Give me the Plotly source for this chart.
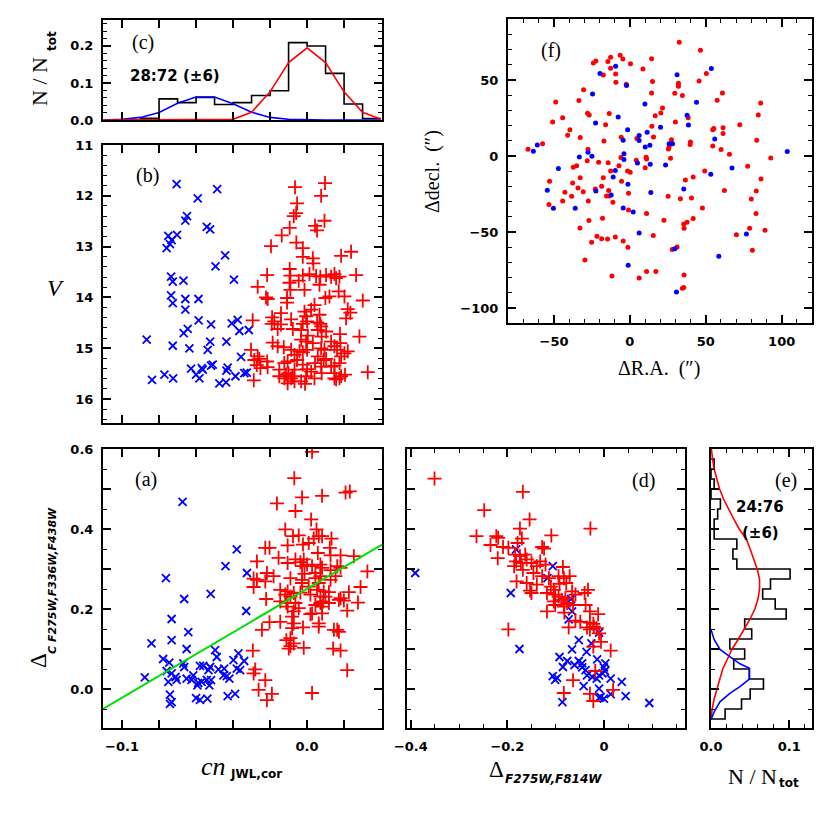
import plotly.graph_objects as go

# ================= DATA =================
# ---- panel (b): V vs cn_JWL,cor ----
b_blue_cn = [-0.0705, -0.0591, -0.0486, -0.0649, -0.0658, -0.0542, -0.0524, -0.0750, -0.0703, -0.0732,
             -0.0741, -0.0759, -0.0443, -0.0495, -0.0735, -0.0726, -0.0668, -0.0395, -0.0735, -0.0726,
             -0.0658, -0.0587, -0.0658, -0.0586, -0.0519, -0.0407, -0.0375, -0.0366, -0.0315, -0.0645,
             -0.0667, -0.0867, -0.0726, -0.0636, -0.0524, -0.0537, -0.0436, -0.0357, -0.0627, -0.0569,
             -0.0519, -0.0510, -0.0429, -0.0436, -0.0771, -0.0724, -0.0838, -0.0600, -0.0582, -0.0564,
             -0.0474, -0.0438, -0.0387, -0.0339, -0.0326]
b_blue_V = [11.77, 12.05, 11.87, 12.40, 12.49, 12.61, 12.66, 12.79, 12.77, 12.87,
            12.95, 13.03, 13.17, 13.39, 13.59, 13.69, 13.67, 13.65, 13.96, 14.11,
            14.03, 14.03, 14.24, 14.45, 14.53, 14.51, 14.44, 14.66, 14.64, 14.62,
            14.70, 14.83, 14.95, 15.00, 14.87, 15.03, 14.87, 15.17, 15.40, 15.39,
            15.34, 15.32, 15.38, 15.44, 15.52, 15.59, 15.62, 15.52, 15.59, 15.42,
            15.69, 15.67, 15.55, 15.49, 15.48]
b_red_cn = [0.0097, 0.0076, -0.0065, -0.0054, -0.0059, -0.0072, 0.0094, 0.0043, 0.0054, -0.0094,
            -0.0137, -0.0058, -0.0195, -0.0023, -0.0023, 0.0031, 0.0034, 0.0238, 0.0184, 0.0265,
            -0.0216, -0.0267, -0.0094, -0.0090, -0.0023, 0.0013, 0.0049, 0.0072, 0.0103, 0.0148,
            0.0157, 0.0130, 0.0175, -0.0045, -0.0095, 0.0067, -0.0090, -0.0014, 0.0171, -0.0222,
            -0.0213, 0.0099, 0.0121, 0.0202, 0.0301, -0.0108, -0.0108, -0.0141, -0.0014, 0.0022,
            0.0040, 0.0067, -0.0005, -0.0023, 0.0220, 0.0234, 0.0211, -0.0189, -0.0177, -0.0191,
            -0.0141, -0.0159, -0.0086, -0.0077, -0.0032, 0.0000, 0.0054, 0.0072, 0.0076, 0.0058,
            0.0103, 0.0178, -0.0294, 0.0004, -0.0032, -0.0005, 0.0031, 0.0079, 0.0130, 0.0148,
            0.0180, 0.0283, -0.0186, -0.0159, -0.0126, -0.0086, -0.0041, -0.0068, -0.0023, 0.0000,
            0.0076, 0.0094, 0.0058, 0.0103, 0.0162, 0.0184, 0.0220, 0.0202, 0.0175, 0.0148,
            -0.0303, -0.0267, -0.0258, -0.0285, -0.0272, -0.0252, -0.0216, -0.0213, -0.0150, -0.0123,
            -0.0105, -0.0054, -0.0068, -0.0114, -0.0101, -0.0077, -0.0068, -0.0023, 0.0000, -0.0005,
            0.0022, 0.0043, 0.0076, 0.0079, 0.0090, 0.0130, 0.0148, 0.0184, 0.0205, 0.0328,
            -0.0105, -0.0032, -0.0011, 0.0040, 0.0148, 0.0157, -0.0288, -0.0150, -0.0123, -0.0086,
            0.0175]
b_red_V = [11.75, 12.00, 11.83, 12.15, 12.34, 12.40, 12.49, 12.59, 12.68, 12.63,
           12.78, 12.92, 12.99, 13.03, 13.20, 13.23, 13.33, 13.10, 13.18, 13.56,
           13.56, 13.79, 13.44, 13.57, 13.57, 13.54, 13.58, 13.59, 13.56, 13.54,
           13.62, 13.59, 13.59, 13.67, 13.71, 13.75, 13.85, 13.85, 13.88, 14.00,
           14.03, 14.01, 13.98, 13.98, 14.06, 14.01, 14.10, 14.31, 14.28, 14.24,
           14.15, 14.34, 14.37, 14.52, 14.23, 14.30, 14.41, 14.39, 14.47, 14.52,
           14.53, 14.62, 14.43, 14.62, 14.64, 14.47, 14.49, 14.52, 14.57, 14.64,
           14.67, 14.72, 14.45, 14.75, 14.83, 14.87, 14.90, 14.77, 14.87, 14.96,
           14.90, 14.77, 14.89, 14.96, 14.98, 15.03, 15.06, 15.13, 15.08, 15.03,
           15.00, 15.03, 15.16, 15.21, 15.03, 15.16, 15.06, 15.10, 15.29, 15.34,
           15.03, 15.16, 15.21, 15.23, 15.33, 15.39, 15.26, 15.37, 15.42, 15.29,
           15.26, 15.23, 15.42, 15.52, 15.49, 15.55, 15.65, 15.32, 15.41, 15.55,
           15.46, 15.29, 15.36, 15.49, 15.23, 15.36, 15.49, 15.55, 15.52, 15.47,
           15.69, 15.65, 15.70, 15.59, 15.59, 15.61, 15.63, 15.55, 15.59, 15.59,
           15.59]

# ---- panel (a): Delta_C vs cn ----
a_blue_cn = [-0.0673, -0.0380, -0.0441, -0.0763, -0.0325, -0.0521, -0.0664, -0.0329, -0.0732, -0.0642,
             -0.0841, -0.0732, -0.0651, -0.0497, -0.0488, -0.0778, -0.0745, -0.0669, -0.0664, -0.0579,
             -0.0561, -0.0524, -0.0533, -0.0479, -0.0448, -0.0371, -0.0398, -0.0340, -0.0380, -0.0362,
             -0.0877, -0.0759, -0.0732, -0.0750, -0.0711, -0.0705, -0.0651, -0.0624, -0.0615, -0.0588,
             -0.0593, -0.0570, -0.0542, -0.0528, -0.0519, -0.0452, -0.0434, -0.0420, -0.0741, -0.0732,
             -0.0741, -0.0600, -0.0579, -0.0539, -0.0429, -0.0389]
a_blue_dc = [0.468, 0.349, 0.307, 0.277, 0.290, 0.238, 0.225, 0.195, 0.175, 0.142,
             0.114, 0.122, 0.100, 0.097, 0.080, 0.075, 0.066, 0.064, 0.055, 0.058,
             0.058, 0.055, 0.047, 0.049, 0.051, 0.089, 0.072, 0.070, 0.051, 0.047,
             0.029, 0.045, 0.039, 0.018, 0.030, 0.023, 0.026, 0.023, 0.034, 0.015,
             0.009, 0.018, 0.023, 0.009, 0.022, 0.034, 0.032, 0.026, -0.014, -0.033,
             -0.037, -0.023, -0.027, -0.024, -0.018, -0.012]
a_red_cn = [0.0027, -0.0069, -0.0163, -0.0027, -0.0063, 0.0081, 0.0208, 0.0231, 0.0022, -0.0118,
            0.0051, 0.0063, 0.0081, 0.0036, -0.0076, -0.0045, 0.0132, -0.0105, -0.0022, 0.0009,
            -0.0226, -0.0203, 0.0123, 0.0058, 0.0127, 0.0181, 0.0253, -0.0154, -0.0105, -0.0063,
            -0.0018, -0.0036, -0.0271, -0.0027, 0.0000, 0.0027, 0.0072, 0.0081, 0.0163, 0.0181,
            0.0127, 0.0326, -0.0217, 0.0045, -0.0014, -0.0289, -0.0271, -0.0226, -0.0181, -0.0090,
            -0.0027, 0.0045, 0.0072, 0.0127, 0.0154, -0.0027, 0.0009, 0.0063, -0.0289, 0.0289,
            -0.0145, -0.0105, -0.0072, -0.0036, 0.0054, 0.0090, 0.0118, 0.0226, -0.0118, -0.0090,
            0.0018, 0.0072, 0.0099, -0.0221, 0.0181, -0.0145, -0.0112, -0.0063, 0.0072, 0.0087,
            0.0118, 0.0172, 0.0199, 0.0275, -0.0105, -0.0045, 0.0045, 0.0081, -0.0072, 0.0027,
            0.0081, 0.0217, 0.0018, -0.0081, -0.0203, -0.0145, -0.0072, 0.0063, -0.0244, -0.0081,
            -0.0022, 0.0063, 0.0145, 0.0163, 0.0172, -0.0090, -0.0112, -0.0072, -0.0090, -0.0099,
            -0.0018, 0.0141, 0.0181, -0.0293, -0.0280, -0.0289, 0.0217, -0.0226, -0.0262, -0.0190,
            -0.0217, 0.0027]
a_red_dc = [0.593, 0.527, 0.464, 0.479, 0.445, 0.483, 0.491, 0.494, 0.424, 0.399,
            0.399, 0.382, 0.382, 0.376, 0.382, 0.384, 0.376, 0.359, 0.361, 0.365,
            0.353, 0.353, 0.353, 0.340, 0.334, 0.334, 0.332, 0.328, 0.315, 0.324,
            0.324, 0.317, 0.319, 0.307, 0.311, 0.307, 0.311, 0.303, 0.307, 0.303,
            0.297, 0.294, 0.290, 0.290, 0.288, 0.276, 0.273, 0.269, 0.282, 0.277,
            0.273, 0.277, 0.282, 0.273, 0.282, 0.265, 0.256, 0.265, 0.255, 0.255,
            0.248, 0.244, 0.240, 0.241, 0.248, 0.244, 0.242, 0.242, 0.236, 0.231,
            0.236, 0.231, 0.231, 0.225, 0.227, 0.219, 0.215, 0.215, 0.215, 0.219,
            0.215, 0.223, 0.221, 0.216, 0.206, 0.202, 0.210, 0.206, 0.194, 0.189,
            0.189, 0.196, 0.187, 0.181, 0.167, 0.168, 0.164, 0.164, 0.148, 0.152,
            0.154, 0.156, 0.148, 0.148, 0.143, 0.127, 0.122, 0.114, 0.107, 0.101,
            0.103, 0.101, 0.096, 0.096, 0.049, 0.039, 0.047, 0.022, -0.002, -0.012,
            -0.028, -0.010]
fit_cn = [-0.1103, 0.0405]
fit_dc = [-0.050, 0.361]

# ---- panel (c): histogram of cn ----
c_bin_edges = [-0.11, -0.10, -0.09, -0.08, -0.07, -0.06, -0.05, -0.04, -0.03, -0.02, -0.01, 0.00, 0.01, 0.02, 0.03, 0.04]
c_frac = [0.0, 0.0, 0.0045, 0.057, 0.047, 0.061, 0.042, 0.047, 0.066, 0.079, 0.209, 0.200, 0.126, 0.043, 0.004]
c_curve_cn = [-0.11, -0.10, -0.09, -0.08, -0.07, -0.06, -0.05, -0.04, -0.03, -0.02, -0.01, 0.00, 0.01, 0.02, 0.03, 0.04]
c_blue_frac = [0.0, 0.002, 0.007, 0.020, 0.045, 0.062, 0.062, 0.044, 0.021, 0.007, 0.002, 0.0, 0.0, 0.0, 0.0, 0.0]
c_red_frac = [0.0, 0.0, 0.0, 0.0, 0.0, 0.0, 0.0, 0.002, 0.021, 0.076, 0.155, 0.195, 0.155, 0.076, 0.021, 0.002]

# ---- panel (d): Delta_C vs Delta_F275W,F814W ----
d_blue_x = [-0.391, -0.182, -0.106, -0.117, -0.193, -0.068, -0.066, -0.073, -0.010, -0.052,
            -0.026, -0.175, -0.066, -0.036, -0.092, -0.076, -0.052, -0.045, -0.014, 0.003,
            -0.085, -0.061, -0.045, -0.038, 0.000, 0.002, -0.035, -0.024, -0.010, -0.003,
            -0.106, -0.101, -0.097, -0.015, 0.014, 0.037, -0.042, -0.010, -0.007, 0.000,
            0.014, 0.045, -0.086, 0.094, -0.010]
d_blue_y = [0.290, 0.349, 0.307, 0.277, 0.240, 0.225, 0.194, 0.174, 0.141, 0.122,
            0.114, 0.100, 0.099, 0.093, 0.080, 0.070, 0.070, 0.064, 0.074, 0.064,
            0.055, 0.060, 0.054, 0.047, 0.054, 0.045, 0.034, 0.030, 0.034, 0.039,
            0.032, 0.023, 0.028, 0.026, 0.026, 0.018, 0.007, 0.001, -0.020, -0.024,
            -0.013, -0.018, -0.033, -0.035, -0.022]
d_red_x = [-0.351, -0.168, -0.248, -0.154, -0.028, -0.174, -0.264, -0.223, -0.170, -0.109,
           -0.235, -0.219, -0.209, -0.198, -0.179, -0.128, -0.124, -0.220, -0.184, -0.174,
           -0.163, -0.182, -0.172, -0.160, -0.150, -0.139, -0.132, -0.121, -0.186, -0.168,
           -0.146, -0.128, -0.114, -0.085, -0.094, -0.083, -0.071, -0.181, -0.160, -0.139,
           -0.110, -0.092, -0.078, -0.153, -0.150, -0.118, -0.104, -0.101, -0.094, -0.087,
           -0.080, -0.076, -0.066, -0.040, -0.033, -0.059, -0.104, -0.101, -0.083, -0.064,
           -0.038, -0.118, -0.082, -0.029, -0.012, -0.059, -0.049, -0.029, -0.022, -0.073,
           -0.035, -0.029, -0.021, -0.015, -0.198, -0.010, -0.006, -0.022, 0.014, -0.018,
           -0.064, 0.019, -0.083, -0.029, -0.022]
d_red_y = [0.526, 0.493, 0.447, 0.424, 0.401, 0.401, 0.382, 0.382, 0.376, 0.384,
           0.360, 0.378, 0.355, 0.353, 0.365, 0.355, 0.351, 0.327, 0.336, 0.332,
           0.336, 0.319, 0.315, 0.324, 0.315, 0.307, 0.319, 0.311, 0.307, 0.298,
           0.290, 0.282, 0.277, 0.305, 0.282, 0.277, 0.282, 0.269, 0.265, 0.261,
           0.256, 0.263, 0.265, 0.246, 0.240, 0.240, 0.248, 0.236, 0.231, 0.223,
           0.227, 0.215, 0.244, 0.240, 0.248, 0.236, 0.219, 0.210, 0.206, 0.210,
           0.210, 0.194, 0.191, 0.194, 0.187, 0.171, 0.168, 0.166, 0.163, 0.154,
           0.154, 0.149, 0.156, 0.152, 0.149, 0.139, 0.118, 0.106, 0.096, 0.045,
           0.022, -0.002, -0.010, -0.012, -0.030]

# ---- panel (e): histogram of Delta_C ----
e_bin_edges = [-0.075, -0.05, -0.025, 0.0, 0.025, 0.05, 0.075, 0.1, 0.125, 0.15, 0.175, 0.2, 0.225,
               0.25, 0.275, 0.3, 0.325, 0.35, 0.375, 0.4, 0.425, 0.45, 0.475, 0.5, 0.525, 0.55, 0.575]
e_frac = [0.018, 0.039, 0.050, 0.067, 0.049, 0.029, 0.043, 0.024, 0.052, 0.043, 0.096, 0.082, 0.066,
          0.076, 0.101, 0.033, 0.028, 0.033, 0.004, 0.004, 0.0085, 0.012, 0.0, 0.004, 0.0, 0.004]
e_red_dc = [-0.075, -0.05, -0.025, 0.0, 0.025, 0.05, 0.075, 0.1, 0.125, 0.15, 0.175, 0.2, 0.225, 0.25,
            0.275, 0.3, 0.325, 0.35, 0.375, 0.4, 0.425, 0.45, 0.475, 0.5, 0.525, 0.55, 0.575, 0.6]
e_red_frac = [0.0, 0.0015, 0.004, 0.0075, 0.011, 0.015, 0.021, 0.027, 0.035, 0.043, 0.050, 0.056, 0.060, 0.062,
              0.062, 0.059, 0.055, 0.050, 0.045, 0.036, 0.029, 0.022, 0.016, 0.011, 0.007, 0.004, 0.002, 0.0005]
e_blue_dc = [-0.077, -0.057, -0.032, -0.011, 0.006, 0.025, 0.052, 0.063, 0.081, 0.099, 0.124, 0.149]
e_blue_frac = [0.0, 0.004, 0.0115, 0.024, 0.037, 0.049, 0.049, 0.037, 0.024, 0.0115, 0.004, 0.0]

# ---- panel (f): spatial distribution ----
f_blue_ra = [-9.4, -19.7, -24.6, -2.2, 9.9, 31.1, 53.7, 43.9, 37.7, 38.6,
             -7.7, -22.6, -1.5, 20.2, 11.4, 6.1, 6.1, -4.4, 13.2, 10.1,
             25.9, 28.1, 55.9, -61.0, -63.6, -27.6, -25.0, -33.3, -3.9, -3.9,
             5.0, 13.4, 23.5, -47.1, -9.6, -11.0, -1.3, 67.3, 53.3, 103.7,
             -54.4, -22.4, -12.3, 13.8, 35.5, -50.4, -36.0, -4.4, 2.2, 6.1,
             29.6, 76.8, 58.6, -1.1, 30.7]
f_blue_dec = [59.0, 54.2, 40.8, 46.3, 34.2, 53.5, 57.5, 35.3, 26.8, 20.4,
              25.7, 21.7, 17.3, 18.9, 15.6, 13.4, 10.1, 10.3, 7.0, 5.9,
              8.1, 8.1, 11.2, 7.2, 3.1, 2.4, -0.2, -0.7, 1.5, -2.4,
              -4.6, -5.5, -5.9, -8.3, -9.6, -13.8, -18.6, -7.9, -12.1, 2.9,
              -22.6, -23.0, -25.7, -24.1, -21.7, -34.4, -34.4, -34.2, -36.8, -50.7,
              -61.0, -51.3, -66.0, -71.9, -89.5]
f_red_ra = [32.5, 46.5, -6.4, -12.7, -4.6, -22.4, -24.1, -14.5, 0.4, 14.3,
            -12.7, 8.6, -9.4, -17.5, 50.4, 14.9, -9.2, -2.4, 45.6, 32.0,
            32.0, -30.5, 34.6, 29.6, 14.3, 61.0, 57.5, -33.6, -48.9, 21.5,
            -27.9, -26.8, -13.6, 20.4, 16.7, -44.3, 38.4, 84.6, 86.2, -50.9,
            -16.0, 14.5, 30.0, 72.4, 54.6, 55.3, 61.4, 61.4, -39.5, -41.0,
            -32.7, -5.7, 15.6, 27.4, 4.6, -17.1, 83.6, -57.5, 39.9, 39.7,
            54.6, 60.1, 65.6, 25.4, 25.9, -27.6, 10.7, 11.0, 4.2, -5.9,
            26.8, 92.8, -28.1, -20.6, -14.3, -7.2, -35.1, -37.3, 10.1, 0.2,
            -1.5, -12.7, 49.3, 77.6, -32.7, -17.5, -52.9, -37.7, -5.5, 36.6,
            41.7, 86.4, -18.6, -34.2, -42.8, -22.8, -14.0, -15.4, -13.6, -0.9,
            62.3, 83.3, 80.0, -38.4, -30.7, -44.3, -27.4, -53.3, -11.2, 33.3,
            40.6, 25.2, 47.8, -0.9, 11.0, -18.0, -27.0, 22.4, 41.7, 37.7,
            35.5, 35.7, -32.9, 83.1, 78.9, 89.0, 70.2, -21.7, -18.6, -14.7,
            -9.6, -4.4, 15.4, -25.2, -1.3, 27.9, 31.1, -29.6, -11.8, 6.1,
            11.0, 17.1, 35.7, 34.6, 35.5, 80.7, -67.1]
f_red_dec = [74.8, 69.5, 66.2, 64.9, 63.8, 62.5, 61.2, 62.1, 60.7, 64.0,
             57.7, 57.2, 53.9, 53.3, 54.2, 48.9, 48.5, 47.1, 49.3, 47.8,
             45.8, 43.6, 39.7, 41.2, 41.4, 41.4, 36.6, 36.4, 35.5, 31.6,
             28.1, 27.0, 27.9, 28.3, 26.5, 25.2, 25.2, 27.0, 34.9, 22.4,
             20.6, 19.5, 22.4, 20.6, 17.3, 18.0, 18.6, 14.7, 17.3, 13.6,
             12.1, 12.3, 12.5, 10.7, 11.4, 9.9, 10.3, 8.1, 9.2, 7.5,
             6.6, 4.2, 1.1, 4.6, 6.1, 4.4, -0.9, -2.0, -2.9, -1.1,
             -1.5, -1.3, -3.1, -4.2, -4.4, -6.4, -6.4, -7.5, -7.7, -10.7,
             -9.9, -9.9, -9.9, -6.8, -14.3, -14.3, -16.7, -17.8, -16.7, -15.8,
             -13.8, -15.1, -20.0, -21.1, -23.9, -21.7, -22.8, -26.3, -26.3, -24.6,
             -22.8, -23.0, -28.3, -26.5, -23.5, -29.6, -29.6, -32.0, -30.5, -28.1,
             -27.6, -26.5, -34.2, -35.5, -37.9, -41.0, -42.5, -42.3, -41.2, -43.6,
             -44.7, -47.6, -47.4, -37.9, -47.6, -48.9, -51.8, -52.9, -54.4, -54.6,
             -53.3, -55.9, -52.4, -56.8, -60.1, -61.6, -59.9, -68.4, -78.9, -80.3,
             -76.1, -76.1, -78.3, -87.1, -86.6, -62.1, 4.4]

# ---- tick labels ----
cn_tickvals = [-0.10, -0.08, -0.06, -0.04, -0.02, 0.00, 0.02, 0.04]
cn_ticktext = ["\u22120.1", "", "", "", "", "0.0", "", ""]
dc_tickvals = [0.0, 0.1, 0.2, 0.3, 0.4, 0.5, 0.6]
dc_ticktext = ["0.0", "", "0.2", "", "0.4", "", "0.6"]

# ================= FIGURE =================
W = H = 830
OX = OY = 8   # page offset of the plot div (browser body margin)
BLUE = "#0000ff"
RED = "#ff0000"
TICKFONT = dict(family="DejaVu Sans", size=13, color="black", weight="bold")


def fx(a, b):
    return [(a - OX) / W, (b - OX) / W]


def fy(top, bot):
    return [1 - (bot - OY) / H, 1 - (top - OY) / H]


fig = go.Figure()

XMARK = dict(symbol="x-thin", size=8, color=BLUE, line=dict(width=1.8, color=BLUE))
PMARK = dict(symbol="cross-thin", size=10, color=RED, line=dict(width=1.8, color=RED))

# (a)
fig.add_trace(go.Scatter(x=a_blue_cn, y=a_blue_dc, mode="markers", xaxis="x", yaxis="y", marker=XMARK))
fig.add_trace(go.Scatter(x=a_red_cn, y=a_red_dc, mode="markers", xaxis="x", yaxis="y", marker=PMARK))
fig.add_trace(go.Scatter(x=fit_cn, y=fit_dc, mode="lines", xaxis="x", yaxis="y",
                         line=dict(color="#00e000", width=2)))
# (b)
fig.add_trace(go.Scatter(x=b_blue_cn, y=b_blue_V, mode="markers", xaxis="x2", yaxis="y2", marker=XMARK))
fig.add_trace(go.Scatter(x=b_red_cn, y=b_red_V, mode="markers", xaxis="x2", yaxis="y2", marker=PMARK))
# (c)
c_step_x = c_bin_edges[:-1] + [c_bin_edges[-1]]
c_step_y = c_frac + [c_frac[-1]]
fig.add_trace(go.Scatter(x=c_step_x, y=c_step_y, mode="lines", line_shape="hv", xaxis="x3", yaxis="y3",
                         line=dict(color="black", width=1.6)))
fig.add_trace(go.Scatter(x=c_curve_cn, y=c_blue_frac, mode="lines", xaxis="x3", yaxis="y3",
                         line=dict(color=BLUE, width=1.6)))
fig.add_trace(go.Scatter(x=c_curve_cn, y=c_red_frac, mode="lines", xaxis="x3", yaxis="y3",
                         line=dict(color=RED, width=1.6)))
# (d)
fig.add_trace(go.Scatter(x=d_blue_x, y=d_blue_y, mode="markers", xaxis="x4", yaxis="y4", marker=XMARK))
fig.add_trace(go.Scatter(x=d_red_x, y=d_red_y, mode="markers", xaxis="x4", yaxis="y4", marker=PMARK))
# (e)
e_step_x = [0.0] + e_frac + [e_frac[-1], 0.0]
e_step_y = [e_bin_edges[0]] + e_bin_edges[:-1] + [e_bin_edges[-1], e_bin_edges[-1]]
fig.add_trace(go.Scatter(x=e_step_x, y=e_step_y, mode="lines", line_shape="vh", xaxis="x5", yaxis="y5",
                         line=dict(color="black", width=1.6)))
fig.add_trace(go.Scatter(x=e_red_frac, y=e_red_dc, mode="lines", xaxis="x5", yaxis="y5",
                         line=dict(color=RED, width=1.6)))
fig.add_trace(go.Scatter(x=e_blue_frac, y=e_blue_dc, mode="lines", xaxis="x5", yaxis="y5",
                         line=dict(color=BLUE, width=1.6)))
# (f)
fig.add_trace(go.Scatter(x=f_red_ra, y=f_red_dec, mode="markers", xaxis="x6", yaxis="y6",
                         marker=dict(symbol="circle", size=5, color=RED, line=dict(width=0))))
fig.add_trace(go.Scatter(x=f_blue_ra, y=f_blue_dec, mode="markers", xaxis="x6", yaxis="y6",
                         marker=dict(symbol="circle", size=5, color=BLUE, line=dict(width=0))))


def ax(**kw):
    base = dict(showline=True, linecolor="black", linewidth=2, mirror="allticks",
                ticks="inside", ticklen=8, tickwidth=1.5, tickcolor="black",
                showgrid=False, zeroline=False, tickfont=TICKFONT, ticklabelstandoff=5,
                automargin=False)
    base.update(kw)
    return base


def minor_kw(d):
    return dict(ticks="inside", ticklen=4, tickwidth=1.2, tickcolor="black", dtick=d, showgrid=False)


fig.update_layout(
    template="none",
    width=W, height=H, margin=dict(l=0, r=0, t=0, b=0, pad=0, autoexpand=False),
    paper_bgcolor="white", plot_bgcolor="white", showlegend=False,
    # (a)
    xaxis=ax(domain=fx(103, 382), range=[-0.1103, 0.0405], anchor="y",
             tickmode="array", tickvals=cn_tickvals, ticktext=cn_ticktext),
    yaxis=ax(domain=fy(449, 728), range=[-0.0975, 0.6], anchor="x",
             tickmode="array", tickvals=dc_tickvals, ticktext=dc_ticktext, minor=minor_kw(0.05)),
    # (b)
    xaxis2=ax(domain=fx(103, 382), range=[-0.1103, 0.0405], anchor="y2",
              tickmode="array", tickvals=cn_tickvals, showticklabels=False),
    yaxis2=ax(domain=fy(145, 423), range=[16.47, 11.0], anchor="x2", dtick=1, tick0=0,
              minor=minor_kw(0.2)),
    # (c)
    xaxis3=ax(domain=fx(103, 382), range=[-0.1103, 0.0405], anchor="y3",
              tickmode="array", tickvals=cn_tickvals, showticklabels=False),
    yaxis3=ax(domain=fy(20, 120), range=[0, 0.27], anchor="x3", dtick=0.1, tick0=0,
              tickformat=".1f", minor=minor_kw(0.02)),
    # (d)
    xaxis4=ax(domain=fx(407, 685), range=[-0.408, 0.168], anchor="y4", dtick=0.2, tick0=0,
              minor=minor_kw(0.05)),
    yaxis4=ax(domain=fy(449, 728), range=[-0.0975, 0.6], anchor="x4",
              tickmode="array", tickvals=dc_tickvals, showticklabels=False, minor=minor_kw(0.05)),
    # (e)
    xaxis5=ax(domain=fx(711, 812), range=[0, 0.129], anchor="y5", dtick=0.1, tick0=0,
              tickformat=".1f", minor=minor_kw(0.02)),
    yaxis5=ax(domain=fy(449, 728), range=[-0.0975, 0.6], anchor="x5",
              tickmode="array", tickvals=dc_tickvals, showticklabels=False, minor=minor_kw(0.05)),
    # (f)
    xaxis6=ax(domain=fx(508, 812), range=[-80.3, 120], anchor="y6", dtick=50, tick0=0,
              minor=minor_kw(10)),
    yaxis6=ax(domain=fy(19, 323), range=[-109.9, 90.1], anchor="x6", dtick=50, tick0=0,
              minor=minor_kw(10)),
)

SERIF = "Liberation Serif"
SANS = "DejaVu Sans"


def note(x, y, text, size, family=SERIF, angle=0, weight="normal", style="normal"):
    fig.add_annotation(x=(x - OX) / W, y=1 - (y - OY) / H, xref="paper", yref="paper", text=text,
                       showarrow=False, textangle=angle, xanchor="center", yanchor="middle",
                       font=dict(family=family, size=size, color="black", weight=weight, style=style))


# panel labels
note(146, 479, "(a)", 20)
note(147, 175, "(b)", 20)
note(143, 43, "(c)", 20)
note(643, 480, "(d)", 20)
note(786, 480, "(e)", 20)
note(551, 50, "(f)", 20)

# ratio texts
note(175, 76, "28:72 (\u00b16)", 15, family=SANS, weight="bold")
note(760, 507, "24:76", 15, family=SANS, weight="bold")
note(760, 533, "(\u00b16)", 15, family=SANS, weight="bold")

# axis titles
note(213, 766, "cn", 26, style="italic")
note(256, 774, "JWL,cor", 12, family=SANS, weight="bold")
note(496, 769, "\u0394", 23)
note(553, 779, "F275W,F814W", 12, family=SANS, weight="bold", style="italic")
note(38, 661, "\u0394", 23, angle=-90)
note(52, 581, "C F275W,F336W,F438W", 11, family=SANS, weight="bold", style="italic", angle=-90)
note(55, 288, "V", 24, style="italic")
note(40, 82, "N / N", 22, angle=-90)
note(52, 41, "tot", 12, family=SANS, weight="bold", angle=-90)
note(752, 776, "N / N", 22)
note(789, 783, "tot", 12, family=SANS, weight="bold")
note(659, 368, "\u0394R.A.  (\u2033)", 20)
note(432, 172, "\u0394decl.  (\u2033)", 20, angle=-90)

fig.write_html("out.html")
